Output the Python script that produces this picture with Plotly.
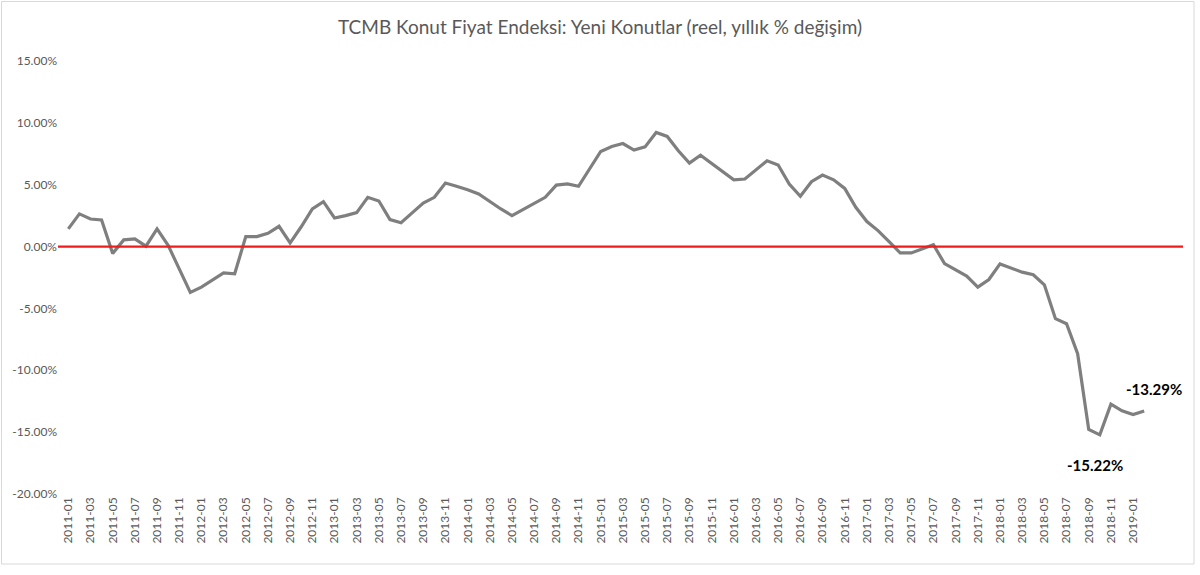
import plotly.graph_objects as go

months = [f"{y}-{m:02d}" for y in range(2011, 2020) for m in range(1, 13)][:98]

values = [
    1.43, 2.64, 2.23, 2.15, -0.55, 0.54, 0.62, 0.03, 1.43, 0.10, -1.80, -3.70,
    -3.28, -2.69, -2.12, -2.20, 0.81, 0.81, 1.07, 1.64, 0.30, 1.60, 3.04, 3.63,
    2.31, 2.50, 2.74, 3.98, 3.68, 2.18, 1.93, 2.72, 3.52, 3.98, 5.14, 4.87,
    4.60, 4.25, 3.63, 3.04, 2.50, 2.98, 3.49, 3.98, 4.97, 5.06, 4.87, 6.27,
    7.69, 8.09, 8.33, 7.80, 8.06, 9.22, 8.90, 7.74, 6.75, 7.39, 6.73, 6.05,
    5.40, 5.46, 6.18, 6.94, 6.59, 5.06, 4.06, 5.24, 5.78, 5.40, 4.70, 3.17,
    2.02, 1.29, 0.40, -0.51, -0.51, -0.15, 0.15, -1.38, -1.85, -2.39, -3.28, -2.66,
    -1.40, -1.75, -2.07, -2.28, -3.09, -5.83, -6.24, -8.66, -14.78, -15.22, -12.74, -13.28,
    -13.57, -13.29,
]

tick_labels = months[::2][:49]
y_ticks = [15, 10, 5, 0, -5, -10, -15, -20]

title = "TCMB Konut Fiyat Endeksi: Yeni Konutlar (reel, yıllık % değişim)"
font_family = "Lato, 'Open Sans', sans-serif"

W, H = 1200, 575
L, R, T, B = 58, 17, 61, 81
PW, PH = W - L - R, H - T - B

fig = go.Figure()
fig.add_trace(go.Scatter(
    x=months, y=values, mode="lines",
    line=dict(color="#7f7f7f", width=3.2),
    showlegend=False, hoverinfo="x+y",
))

fig.add_hline(y=0, line=dict(color="#ee1c1c", width=2.2), layer="above")

min_idx = values.index(min(values))
last_idx = len(values) - 1
fig.add_annotation(x=months[last_idx], y=values[last_idx], text=f"<b>{values[last_idx]:.2f}%</b>",
                   showarrow=False, xshift=10, yshift=22,
                   font=dict(size=15, color="#000000", family=font_family))
fig.add_annotation(x=months[min_idx], y=values[min_idx], text=f"<b>{values[min_idx]:.2f}%</b>",
                   showarrow=False, xshift=-5, yshift=-30,
                   font=dict(size=15, color="#000000", family=font_family))

# outer chart border (pixel positions converted to paper coords)
fig.add_shape(type="rect", xref="paper", yref="paper",
              x0=(1.5 - L) / PW, x1=(1194 - L) / PW,
              y0=(H - B - 564) / PH, y1=(H - B - 1.5) / PH,
              line=dict(color="#d9d9d9", width=1), fillcolor="rgba(0,0,0,0)", layer="below")

fig.update_layout(
    width=W, height=H,
    paper_bgcolor="white", plot_bgcolor="white",
    margin=dict(l=L, r=R, t=T, b=B),
    title=dict(text=title, x=0.5, xanchor="center", y=1 - 27 / H, yanchor="middle",
               font=dict(size=19, color="#595959", family=font_family)),
    font=dict(family=font_family, color="#595959"),
    xaxis=dict(
        type="category", range=[-0.93, 100.5],
        tickmode="array", tickvals=tick_labels, ticktext=tick_labels,
        tickangle=-90, tickfont=dict(size=12, color="#595959"),
        showgrid=False, zeroline=False, showline=False, ticks="",
    ),
    yaxis=dict(
        range=[-20, 15], tickmode="array", tickvals=y_ticks,
        ticktext=[f"{v:.2f}%" for v in y_ticks],
        tickfont=dict(size=12, color="#595959"),
        showgrid=False, zeroline=False, showline=False, ticks="",
    ),
)

fig.write_html("out.html", config={"displayModeBar": False},
               post_script="document.body.style.margin='0';document.body.style.overflow='hidden';")
